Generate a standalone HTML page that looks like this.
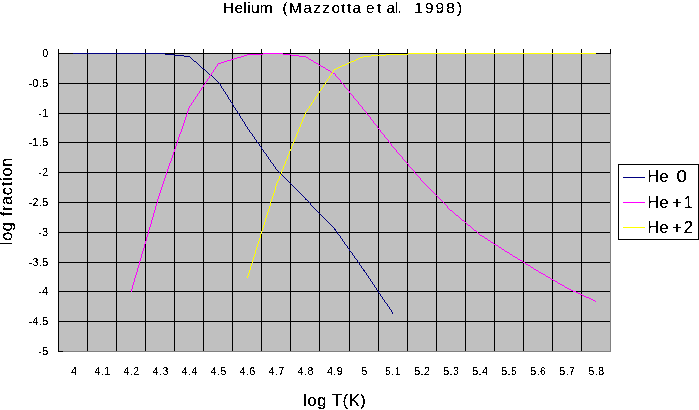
<!DOCTYPE html>
<html><head><meta charset="utf-8"><title>Helium</title>
<style>
html,body{margin:0;padding:0;background:#fff;}
svg{display:block;}
text{font-family:"Liberation Sans",sans-serif;fill:#000;}
.tk{font-size:10.5px;letter-spacing:0.5px;}
.ax{font-size:16.5px;letter-spacing:0.6px;}
.lg{font-size:16.5px;}
.tt{font-size:15.5px;}
</style></head><body>
<svg width="699" height="410" viewBox="0 0 699 410">
<rect x="0" y="0" width="699" height="410" fill="#fff"/>
<rect x="58" y="53" width="552" height="298" fill="#c0c0c0"/>
<g shape-rendering="crispEdges">
<rect x="610" y="53" width="1" height="299" fill="#808080"/>
<rect x="58" y="351" width="553" height="1" fill="#808080"/>
<rect x="58" y="53" width="553" height="1" fill="#000"/>
<rect x="58" y="83" width="552" height="1" fill="#000"/>
<rect x="58" y="113" width="552" height="1" fill="#000"/>
<rect x="58" y="142" width="552" height="1" fill="#000"/>
<rect x="58" y="172" width="552" height="1" fill="#000"/>
<rect x="58" y="202" width="552" height="1" fill="#000"/>
<rect x="58" y="232" width="552" height="1" fill="#000"/>
<rect x="58" y="262" width="552" height="1" fill="#000"/>
<rect x="58" y="291" width="552" height="1" fill="#000"/>
<rect x="58" y="321" width="552" height="1" fill="#000"/>
<rect x="58" y="49" width="1" height="302" fill="#000"/>
<rect x="87" y="49" width="1" height="302" fill="#000"/>
<rect x="116" y="49" width="1" height="302" fill="#000"/>
<rect x="145" y="49" width="1" height="302" fill="#000"/>
<rect x="174" y="49" width="1" height="302" fill="#000"/>
<rect x="203" y="49" width="1" height="302" fill="#000"/>
<rect x="232" y="49" width="1" height="302" fill="#000"/>
<rect x="261" y="49" width="1" height="302" fill="#000"/>
<rect x="290" y="49" width="1" height="302" fill="#000"/>
<rect x="319" y="49" width="1" height="302" fill="#000"/>
<rect x="349" y="49" width="1" height="302" fill="#000"/>
<rect x="378" y="49" width="1" height="302" fill="#000"/>
<rect x="407" y="49" width="1" height="302" fill="#000"/>
<rect x="436" y="49" width="1" height="302" fill="#000"/>
<rect x="465" y="49" width="1" height="302" fill="#000"/>
<rect x="494" y="49" width="1" height="302" fill="#000"/>
<rect x="523" y="49" width="1" height="302" fill="#000"/>
<rect x="552" y="49" width="1" height="302" fill="#000"/>
<rect x="581" y="49" width="1" height="302" fill="#000"/>
<rect x="610" y="49" width="1" height="5" fill="#000"/>
<rect x="58" y="351" width="5" height="1" fill="#000"/>
</g>
<g shape-rendering="crispEdges" stroke="none">
<path fill="#000080" d="M73 53h92v1h-92zM165 54h9v1h-9zM174 55h10v1h-10zM184 56h6v1h-6zM190 57h1v1h-1zM191 58h1v1h-1zM192 59h1v1h-1zM193 60h1v1h-1zM194 61h2v1h-2zM196 62h1v1h-1zM197 63h1v1h-1zM198 64h1v1h-1zM199 65h1v1h-1zM200 66h1v1h-1zM201 67h1v1h-1zM202 68h2v1h-2zM204 69h1v1h-1zM205 70h1v1h-1zM206 71h1v1h-1zM207 72h1v1h-1zM208 73h1v1h-1zM209 74h1v1h-1zM210 75h2v1h-2zM212 76h1v1h-1zM213 77h1v1h-1zM214 78h1v1h-1zM215 79h1v1h-1zM216 80h1v1h-1zM217 81h1v1h-1zM218 82h1v1h-1zM219 83h1v1h-1zM220 84h1v1h-1zM220 85h1v1h-1zM221 86h1v1h-1zM221 87h1v1h-1zM222 88h1v1h-1zM223 89h1v1h-1zM223 90h1v1h-1zM224 91h1v1h-1zM225 92h1v1h-1zM225 93h1v1h-1zM226 94h1v1h-1zM227 95h1v1h-1zM227 96h1v1h-1zM228 97h1v1h-1zM228 98h1v1h-1zM229 99h1v1h-1zM230 100h1v1h-1zM230 101h1v1h-1zM231 102h1v1h-1zM232 103h1v1h-1zM232 104h1v1h-1zM233 105h1v1h-1zM233 106h1v1h-1zM234 107h1v1h-1zM235 108h1v1h-1zM235 109h1v1h-1zM236 110h1v1h-1zM237 111h1v1h-1zM237 112h1v1h-1zM238 113h1v1h-1zM239 114h1v1h-1zM239 115h1v1h-1zM240 116h1v1h-1zM240 117h1v1h-1zM241 118h1v1h-1zM242 119h1v1h-1zM242 120h1v1h-1zM243 121h1v1h-1zM244 122h1v1h-1zM244 123h1v1h-1zM245 124h1v1h-1zM245 125h1v1h-1zM246 126h1v1h-1zM247 127h1v1h-1zM247 128h1v1h-1zM248 129h1v1h-1zM249 130h1v1h-1zM249 131h1v1h-1zM250 132h1v1h-1zM251 133h1v1h-1zM252 134h1v1h-1zM252 135h1v1h-1zM253 136h1v1h-1zM254 137h1v1h-1zM254 138h1v1h-1zM255 139h1v1h-1zM256 140h1v1h-1zM256 141h1v1h-1zM257 142h1v1h-1zM258 143h1v1h-1zM259 144h1v1h-1zM259 145h1v1h-1zM260 146h1v1h-1zM261 147h1v1h-1zM261 148h1v1h-1zM262 149h1v1h-1zM263 150h1v1h-1zM263 151h1v1h-1zM264 152h1v1h-1zM265 153h1v1h-1zM266 154h1v1h-1zM266 155h1v1h-1zM267 156h1v1h-1zM268 157h1v1h-1zM268 158h1v1h-1zM269 159h1v1h-1zM270 160h1v1h-1zM270 161h1v1h-1zM271 162h1v1h-1zM272 163h1v1h-1zM273 164h1v1h-1zM273 165h1v1h-1zM274 166h1v1h-1zM275 167h1v1h-1zM275 168h1v1h-1zM276 169h1v1h-1zM277 170h1v1h-1zM278 171h1v1h-1zM279 172h1v1h-1zM280 173h1v1h-1zM281 174h1v1h-1zM282 175h1v1h-1zM283 176h1v1h-1zM284 177h1v1h-1zM285 178h1v1h-1zM286 179h1v1h-1zM287 180h1v1h-1zM288 181h1v1h-1zM289 182h1v1h-1zM290 183h1v1h-1zM291 184h1v1h-1zM292 185h1v1h-1zM293 186h1v1h-1zM294 187h1v1h-1zM295 188h1v1h-1zM296 189h1v1h-1zM297 190h1v1h-1zM298 191h1v1h-1zM299 192h1v1h-1zM300 193h1v1h-1zM301 194h1v1h-1zM302 195h1v1h-1zM303 196h1v1h-1zM304 197h1v1h-1zM305 198h1v1h-1zM305 199h2v1h-2zM307 200h1v1h-1zM308 201h1v1h-1zM309 202h1v1h-1zM310 203h1v1h-1zM310 204h1v1h-1zM311 205h1v1h-1zM312 206h1v1h-1zM313 207h1v1h-1zM314 208h1v1h-1zM315 209h1v1h-1zM316 210h1v1h-1zM317 211h1v1h-1zM318 212h1v1h-1zM319 213h1v1h-1zM320 214h1v1h-1zM321 215h1v1h-1zM322 216h1v1h-1zM323 217h1v1h-1zM324 218h1v1h-1zM325 219h1v1h-1zM326 220h1v1h-1zM327 221h1v1h-1zM328 222h1v1h-1zM329 223h1v1h-1zM330 224h1v1h-1zM331 225h1v1h-1zM332 226h1v1h-1zM333 227h1v1h-1zM334 228h1v1h-1zM334 229h2v1h-2zM335 230h1v1h-1zM336 231h1v1h-1zM337 232h1v1h-1zM337 233h1v1h-1zM338 234h1v1h-1zM339 235h1v1h-1zM340 236h1v1h-1zM340 237h1v1h-1zM341 238h1v1h-1zM342 239h1v1h-1zM342 240h1v1h-1zM343 241h1v1h-1zM344 242h1v1h-1zM344 243h1v1h-1zM345 244h1v1h-1zM346 245h1v1h-1zM347 246h1v1h-1zM347 247h1v1h-1zM348 248h1v1h-1zM349 249h1v1h-1zM349 250h1v1h-1zM350 251h1v1h-1zM351 252h1v1h-1zM352 253h1v1h-1zM352 254h1v1h-1zM353 255h1v1h-1zM354 256h1v1h-1zM354 257h1v1h-1zM355 258h1v1h-1zM356 259h1v1h-1zM357 260h1v1h-1zM357 261h1v1h-1zM358 262h1v1h-1zM359 263h1v1h-1zM359 264h1v1h-1zM360 265h1v1h-1zM361 266h1v1h-1zM361 267h1v1h-1zM362 268h1v1h-1zM363 269h1v1h-1zM363 270h2v1h-2zM364 271h1v1h-1zM365 272h1v1h-1zM366 273h1v1h-1zM366 274h1v1h-1zM367 275h1v1h-1zM368 276h1v1h-1zM368 277h1v1h-1zM369 278h1v1h-1zM370 279h1v1h-1zM370 280h1v1h-1zM371 281h1v1h-1zM372 282h1v1h-1zM372 283h1v1h-1zM373 284h1v1h-1zM374 285h1v1h-1zM374 286h1v1h-1zM375 287h1v1h-1zM376 288h1v1h-1zM376 289h1v1h-1zM377 290h1v1h-1zM378 291h1v1h-1zM378 292h1v1h-1zM379 293h1v1h-1zM380 294h1v1h-1zM380 295h1v1h-1zM381 296h1v1h-1zM382 297h1v1h-1zM382 298h1v1h-1zM383 299h1v1h-1zM384 300h1v1h-1zM384 301h1v1h-1zM385 302h1v1h-1zM386 303h1v1h-1zM387 304h1v1h-1zM387 305h1v1h-1zM388 306h1v1h-1zM389 307h1v1h-1zM389 308h1v1h-1zM390 309h1v1h-1zM391 310h1v1h-1zM391 311h1v1h-1zM392 312h1v1h-1zM392 313h1v1h-1z"/>
<path fill="#ff00ff" d="M263 53h20v1h-20zM247 54h16v1h-16zM283 54h8v1h-8zM244 55h3v1h-3zM291 55h8v1h-8zM241 56h3v1h-3zM299 56h7v1h-7zM237 57h4v1h-4zM306 57h2v1h-2zM234 58h3v1h-3zM308 58h1v1h-1zM231 59h3v1h-3zM309 59h2v1h-2zM227 60h4v1h-4zM311 60h2v1h-2zM224 61h3v1h-3zM313 61h1v1h-1zM221 62h3v1h-3zM314 62h2v1h-2zM218 63h3v1h-3zM316 63h2v1h-2zM217 64h1v1h-1zM318 64h1v1h-1zM217 65h1v1h-1zM319 65h2v1h-2zM216 66h1v1h-1zM321 66h2v1h-2zM215 67h1v1h-1zM323 67h2v1h-2zM215 68h1v1h-1zM325 68h1v1h-1zM214 69h1v1h-1zM326 69h2v1h-2zM213 70h1v1h-1zM328 70h2v1h-2zM213 71h1v1h-1zM330 71h1v1h-1zM212 72h1v1h-1zM331 72h2v1h-2zM211 73h1v1h-1zM333 73h2v1h-2zM211 74h1v1h-1zM335 74h1v1h-1zM210 75h1v1h-1zM335 75h1v1h-1zM209 76h1v1h-1zM336 76h1v1h-1zM209 77h1v1h-1zM337 77h1v1h-1zM208 78h1v1h-1zM338 78h1v1h-1zM207 79h1v1h-1zM339 79h1v1h-1zM207 80h1v1h-1zM340 80h1v1h-1zM206 81h1v1h-1zM340 81h1v1h-1zM205 82h1v1h-1zM341 82h1v1h-1zM205 83h1v1h-1zM342 83h1v1h-1zM204 84h1v1h-1zM343 84h1v1h-1zM203 85h1v1h-1zM344 85h1v1h-1zM203 86h1v1h-1zM344 86h1v1h-1zM202 87h1v1h-1zM345 87h1v1h-1zM201 88h1v1h-1zM346 88h1v1h-1zM201 89h1v1h-1zM347 89h1v1h-1zM200 90h1v1h-1zM348 90h1v1h-1zM199 91h1v1h-1zM349 91h1v1h-1zM199 92h1v1h-1zM349 92h1v1h-1zM198 93h1v1h-1zM350 93h1v1h-1zM197 94h1v1h-1zM351 94h1v1h-1zM197 95h1v1h-1zM352 95h1v1h-1zM196 96h1v1h-1zM353 96h1v1h-1zM195 97h1v1h-1zM353 97h1v1h-1zM195 98h1v1h-1zM354 98h1v1h-1zM194 99h1v1h-1zM355 99h1v1h-1zM193 100h1v1h-1zM356 100h1v1h-1zM193 101h1v1h-1zM357 101h1v1h-1zM192 102h1v1h-1zM358 102h1v1h-1zM191 103h1v1h-1zM358 103h1v1h-1zM191 104h1v1h-1zM359 104h1v1h-1zM190 105h1v1h-1zM360 105h1v1h-1zM189 106h1v1h-1zM361 106h1v1h-1zM189 107h1v1h-1zM362 107h1v1h-1zM188 108h1v1h-1zM362 108h1v1h-1zM188 109h1v1h-1zM363 109h1v1h-1zM188 110h1v1h-1zM364 110h1v1h-1zM187 111h1v1h-1zM365 111h1v1h-1zM187 112h1v1h-1zM366 112h1v1h-1zM187 113h1v1h-1zM366 113h1v1h-1zM186 114h1v1h-1zM367 114h1v1h-1zM186 115h1v1h-1zM368 115h1v1h-1zM186 116h1v1h-1zM369 116h1v1h-1zM185 117h1v1h-1zM370 117h1v1h-1zM185 118h1v1h-1zM370 118h1v1h-1zM185 119h1v1h-1zM371 119h1v1h-1zM184 120h1v1h-1zM372 120h1v1h-1zM184 121h1v1h-1zM373 121h1v1h-1zM184 122h1v1h-1zM373 122h1v1h-1zM183 123h1v1h-1zM374 123h1v1h-1zM183 124h1v1h-1zM375 124h1v1h-1zM183 125h1v1h-1zM376 125h1v1h-1zM182 126h1v1h-1zM377 126h1v1h-1zM182 127h1v1h-1zM377 127h1v1h-1zM182 128h1v1h-1zM378 128h1v1h-1zM181 129h1v1h-1zM379 129h1v1h-1zM181 130h1v1h-1zM380 130h1v1h-1zM181 131h1v1h-1zM380 131h1v1h-1zM180 132h1v1h-1zM381 132h1v1h-1zM180 133h1v1h-1zM382 133h1v1h-1zM179 134h1v1h-1zM383 134h1v1h-1zM179 135h1v1h-1zM384 135h1v1h-1zM179 136h1v1h-1zM384 136h1v1h-1zM178 137h1v1h-1zM385 137h1v1h-1zM178 138h1v1h-1zM386 138h1v1h-1zM178 139h1v1h-1zM387 139h1v1h-1zM177 140h1v1h-1zM388 140h1v1h-1zM177 141h1v1h-1zM388 141h1v1h-1zM177 142h1v1h-1zM389 142h1v1h-1zM176 143h1v1h-1zM390 143h1v1h-1zM176 144h1v1h-1zM391 144h1v1h-1zM176 145h1v1h-1zM391 145h1v1h-1zM175 146h1v1h-1zM392 146h1v1h-1zM175 147h1v1h-1zM393 147h1v1h-1zM175 148h1v1h-1zM394 148h1v1h-1zM174 149h1v1h-1zM395 149h1v1h-1zM174 150h1v1h-1zM396 150h1v1h-1zM174 151h1v1h-1zM396 151h1v1h-1zM173 152h1v1h-1zM397 152h1v1h-1zM173 153h1v1h-1zM398 153h1v1h-1zM173 154h1v1h-1zM399 154h1v1h-1zM172 155h1v1h-1zM400 155h1v1h-1zM172 156h1v1h-1zM401 156h1v1h-1zM172 157h1v1h-1zM402 157h1v1h-1zM171 158h1v1h-1zM402 158h1v1h-1zM171 159h1v1h-1zM403 159h1v1h-1zM171 160h1v1h-1zM404 160h1v1h-1zM170 161h1v1h-1zM405 161h1v1h-1zM170 162h1v1h-1zM406 162h1v1h-1zM169 163h1v1h-1zM407 163h1v1h-1zM169 164h1v1h-1zM408 164h1v1h-1zM169 165h1v1h-1zM408 165h1v1h-1zM168 166h1v1h-1zM409 166h1v1h-1zM168 167h1v1h-1zM410 167h1v1h-1zM168 168h1v1h-1zM411 168h1v1h-1zM167 169h1v1h-1zM412 169h1v1h-1zM167 170h1v1h-1zM413 170h1v1h-1zM167 171h1v1h-1zM414 171h1v1h-1zM166 172h1v1h-1zM414 172h1v1h-1zM166 173h1v1h-1zM415 173h1v1h-1zM166 174h1v1h-1zM416 174h1v1h-1zM165 175h1v1h-1zM417 175h1v1h-1zM165 176h1v1h-1zM418 176h1v1h-1zM165 177h1v1h-1zM419 177h1v1h-1zM164 178h1v1h-1zM420 178h1v1h-1zM164 179h1v1h-1zM420 179h1v1h-1zM164 180h1v1h-1zM421 180h1v1h-1zM163 181h1v1h-1zM422 181h1v1h-1zM163 182h1v1h-1zM423 182h1v1h-1zM163 183h1v1h-1zM424 183h1v1h-1zM162 184h1v1h-1zM425 184h1v1h-1zM162 185h1v1h-1zM426 185h1v1h-1zM162 186h1v1h-1zM427 186h1v1h-1zM161 187h1v1h-1zM428 187h1v1h-1zM161 188h1v1h-1zM429 188h1v1h-1zM161 189h1v1h-1zM430 189h1v1h-1zM160 190h1v1h-1zM431 190h1v1h-1zM160 191h1v1h-1zM432 191h1v1h-1zM160 192h1v1h-1zM433 192h1v1h-1zM159 193h1v1h-1zM434 193h1v1h-1zM159 194h1v1h-1zM435 194h1v1h-1zM159 195h1v1h-1zM436 195h1v1h-1zM158 196h1v1h-1zM437 196h1v1h-1zM158 197h1v1h-1zM438 197h1v1h-1zM158 198h1v1h-1zM439 198h1v1h-1zM157 199h1v1h-1zM440 199h1v1h-1zM157 200h1v1h-1zM441 200h1v1h-1zM157 201h1v1h-1zM442 201h1v1h-1zM157 202h1v1h-1zM443 202h1v1h-1zM156 203h1v1h-1zM444 203h1v1h-1zM156 204h1v1h-1zM445 204h1v1h-1zM156 205h1v1h-1zM446 205h1v1h-1zM155 206h1v1h-1zM447 206h1v1h-1zM155 207h1v1h-1zM447 207h1v1h-1zM155 208h1v1h-1zM448 208h1v1h-1zM155 209h1v1h-1zM449 209h1v1h-1zM154 210h1v1h-1zM450 210h2v1h-2zM154 211h1v1h-1zM452 211h1v1h-1zM154 212h1v1h-1zM453 212h1v1h-1zM153 213h1v1h-1zM454 213h1v1h-1zM153 214h1v1h-1zM455 214h1v1h-1zM153 215h1v1h-1zM456 215h2v1h-2zM153 216h1v1h-1zM458 216h1v1h-1zM152 217h1v1h-1zM459 217h1v1h-1zM152 218h1v1h-1zM460 218h1v1h-1zM152 219h1v1h-1zM461 219h1v1h-1zM151 220h1v1h-1zM462 220h2v1h-2zM151 221h1v1h-1zM464 221h1v1h-1zM151 222h1v1h-1zM465 222h1v1h-1zM151 223h1v1h-1zM466 223h1v1h-1zM150 224h1v1h-1zM467 224h1v1h-1zM150 225h1v1h-1zM468 225h2v1h-2zM150 226h1v1h-1zM470 226h1v1h-1zM149 227h1v1h-1zM471 227h1v1h-1zM149 228h1v1h-1zM472 228h1v1h-1zM149 229h1v1h-1zM473 229h1v1h-1zM148 230h1v1h-1zM474 230h2v1h-2zM148 231h1v1h-1zM476 231h1v1h-1zM148 232h1v1h-1zM477 232h1v1h-1zM148 233h1v1h-1zM478 233h1v1h-1zM147 234h1v1h-1zM479 234h1v1h-1zM147 235h1v1h-1zM480 235h2v1h-2zM147 236h1v1h-1zM482 236h2v1h-2zM146 237h1v1h-1zM484 237h1v1h-1zM146 238h1v1h-1zM485 238h2v1h-2zM146 239h1v1h-1zM487 239h1v1h-1zM146 240h1v1h-1zM488 240h2v1h-2zM145 241h1v1h-1zM490 241h1v1h-1zM145 242h1v1h-1zM491 242h2v1h-2zM145 243h1v1h-1zM493 243h1v1h-1zM144 244h1v1h-1zM494 244h2v1h-2zM144 245h1v1h-1zM496 245h2v1h-2zM144 246h1v1h-1zM498 246h1v1h-1zM144 247h1v1h-1zM499 247h2v1h-2zM143 248h1v1h-1zM501 248h1v1h-1zM143 249h1v1h-1zM502 249h2v1h-2zM143 250h1v1h-1zM504 250h1v1h-1zM142 251h1v1h-1zM505 251h2v1h-2zM142 252h1v1h-1zM507 252h2v1h-2zM142 253h1v1h-1zM509 253h1v1h-1zM141 254h1v1h-1zM510 254h2v1h-2zM141 255h1v1h-1zM512 255h1v1h-1zM141 256h1v1h-1zM513 256h2v1h-2zM141 257h1v1h-1zM515 257h2v1h-2zM140 258h1v1h-1zM517 258h1v1h-1zM140 259h1v1h-1zM518 259h2v1h-2zM140 260h1v1h-1zM520 260h2v1h-2zM139 261h1v1h-1zM522 261h1v1h-1zM139 262h1v1h-1zM523 262h2v1h-2zM139 263h1v1h-1zM525 263h1v1h-1zM139 264h1v1h-1zM526 264h2v1h-2zM138 265h1v1h-1zM528 265h2v1h-2zM138 266h1v1h-1zM530 266h1v1h-1zM138 267h1v1h-1zM531 267h2v1h-2zM137 268h1v1h-1zM533 268h1v1h-1zM137 269h1v1h-1zM534 269h2v1h-2zM137 270h1v1h-1zM536 270h2v1h-2zM137 271h1v1h-1zM538 271h1v1h-1zM136 272h1v1h-1zM539 272h2v1h-2zM136 273h1v1h-1zM541 273h2v1h-2zM136 274h1v1h-1zM543 274h2v1h-2zM135 275h1v1h-1zM545 275h1v1h-1zM135 276h1v1h-1zM546 276h2v1h-2zM135 277h1v1h-1zM548 277h2v1h-2zM134 278h1v1h-1zM550 278h1v1h-1zM134 279h1v1h-1zM551 279h2v1h-2zM134 280h1v1h-1zM553 280h2v1h-2zM134 281h1v1h-1zM555 281h2v1h-2zM133 282h1v1h-1zM557 282h1v1h-1zM133 283h1v1h-1zM558 283h2v1h-2zM133 284h1v1h-1zM560 284h2v1h-2zM132 285h1v1h-1zM562 285h2v1h-2zM132 286h1v1h-1zM564 286h1v1h-1zM132 287h1v1h-1zM565 287h2v1h-2zM132 288h1v1h-1zM567 288h2v1h-2zM131 289h1v1h-1zM569 289h2v1h-2zM131 290h1v1h-1zM571 290h2v1h-2zM131 291h1v1h-1zM573 291h3v1h-3zM576 292h2v1h-2zM578 293h2v1h-2zM580 294h2v1h-2zM582 295h2v1h-2zM584 296h2v1h-2zM586 297h3v1h-3zM589 298h2v1h-2zM591 299h2v1h-2zM593 300h2v1h-2zM595 301h1v1h-1z"/>
<path fill="#ffff00" d="M408 53h188v1h-188zM386 54h22v1h-22zM371 55h15v1h-15zM363 56h8v1h-8zM360 57h3v1h-3zM358 58h2v1h-2zM356 59h2v1h-2zM354 60h2v1h-2zM351 61h3v1h-3zM349 62h2v1h-2zM347 63h2v1h-2zM345 64h2v1h-2zM342 65h3v1h-3zM340 66h2v1h-2zM338 67h2v1h-2zM336 68h2v1h-2zM334 69h2v1h-2zM333 70h1v1h-1zM333 71h1v1h-1zM332 72h1v1h-1zM331 73h1v1h-1zM331 74h1v1h-1zM330 75h1v1h-1zM329 76h1v1h-1zM329 77h1v1h-1zM328 78h1v1h-1zM327 79h1v1h-1zM327 80h1v1h-1zM326 81h1v1h-1zM325 82h1v1h-1zM325 83h1v1h-1zM324 84h1v1h-1zM323 85h1v1h-1zM323 86h1v1h-1zM322 87h1v1h-1zM321 88h1v1h-1zM321 89h1v1h-1zM320 90h1v1h-1zM319 91h1v1h-1zM319 92h1v1h-1zM318 93h1v1h-1zM317 94h1v1h-1zM317 95h1v1h-1zM316 96h1v1h-1zM315 97h1v1h-1zM315 98h1v1h-1zM314 99h1v1h-1zM313 100h1v1h-1zM313 101h1v1h-1zM312 102h1v1h-1zM311 103h1v1h-1zM311 104h1v1h-1zM310 105h1v1h-1zM309 106h1v1h-1zM309 107h1v1h-1zM308 108h1v1h-1zM307 109h1v1h-1zM307 110h1v1h-1zM306 111h1v1h-1zM305 112h1v1h-1zM305 113h1v1h-1zM304 114h1v1h-1zM304 115h1v1h-1zM304 116h1v1h-1zM303 117h1v1h-1zM303 118h1v1h-1zM302 119h1v1h-1zM302 120h1v1h-1zM302 121h1v1h-1zM301 122h1v1h-1zM301 123h1v1h-1zM300 124h1v1h-1zM300 125h1v1h-1zM300 126h1v1h-1zM299 127h1v1h-1zM299 128h1v1h-1zM298 129h1v1h-1zM298 130h1v1h-1zM298 131h1v1h-1zM297 132h1v1h-1zM297 133h1v1h-1zM296 134h1v1h-1zM296 135h1v1h-1zM296 136h1v1h-1zM295 137h1v1h-1zM295 138h1v1h-1zM294 139h1v1h-1zM294 140h1v1h-1zM294 141h1v1h-1zM293 142h1v1h-1zM293 143h1v1h-1zM292 144h1v1h-1zM292 145h1v1h-1zM291 146h1v1h-1zM291 147h1v1h-1zM291 148h1v1h-1zM290 149h1v1h-1zM290 150h1v1h-1zM289 151h1v1h-1zM289 152h1v1h-1zM289 153h1v1h-1zM288 154h1v1h-1zM288 155h1v1h-1zM287 156h1v1h-1zM287 157h1v1h-1zM287 158h1v1h-1zM286 159h1v1h-1zM286 160h1v1h-1zM285 161h1v1h-1zM285 162h1v1h-1zM285 163h1v1h-1zM284 164h1v1h-1zM284 165h1v1h-1zM283 166h1v1h-1zM283 167h1v1h-1zM283 168h1v1h-1zM282 169h1v1h-1zM282 170h1v1h-1zM281 171h1v1h-1zM281 172h1v1h-1zM281 173h1v1h-1zM280 174h1v1h-1zM280 175h1v1h-1zM279 176h1v1h-1zM279 177h1v1h-1zM279 178h1v1h-1zM278 179h1v1h-1zM278 180h1v1h-1zM277 181h1v1h-1zM277 182h1v1h-1zM276 183h1v1h-1zM276 184h1v1h-1zM276 185h1v1h-1zM275 186h1v1h-1zM275 187h1v1h-1zM275 188h1v1h-1zM275 189h1v1h-1zM274 190h1v1h-1zM274 191h1v1h-1zM274 192h1v1h-1zM273 193h1v1h-1zM273 194h1v1h-1zM273 195h1v1h-1zM272 196h1v1h-1zM272 197h1v1h-1zM272 198h1v1h-1zM271 199h1v1h-1zM271 200h1v1h-1zM271 201h1v1h-1zM270 202h1v1h-1zM270 203h1v1h-1zM270 204h1v1h-1zM270 205h1v1h-1zM269 206h1v1h-1zM269 207h1v1h-1zM269 208h1v1h-1zM268 209h1v1h-1zM268 210h1v1h-1zM268 211h1v1h-1zM267 212h1v1h-1zM267 213h1v1h-1zM267 214h1v1h-1zM266 215h1v1h-1zM266 216h1v1h-1zM266 217h1v1h-1zM265 218h1v1h-1zM265 219h1v1h-1zM265 220h1v1h-1zM265 221h1v1h-1zM264 222h1v1h-1zM264 223h1v1h-1zM264 224h1v1h-1zM263 225h1v1h-1zM263 226h1v1h-1zM263 227h1v1h-1zM262 228h1v1h-1zM262 229h1v1h-1zM262 230h1v1h-1zM261 231h1v1h-1zM261 232h1v1h-1zM261 233h1v1h-1zM260 234h1v1h-1zM260 235h1v1h-1zM260 236h1v1h-1zM260 237h1v1h-1zM259 238h1v1h-1zM259 239h1v1h-1zM259 240h1v1h-1zM258 241h1v1h-1zM258 242h1v1h-1zM258 243h1v1h-1zM257 244h1v1h-1zM257 245h1v1h-1zM257 246h1v1h-1zM256 247h1v1h-1zM256 248h1v1h-1zM256 249h1v1h-1zM255 250h1v1h-1zM255 251h1v1h-1zM255 252h1v1h-1zM255 253h1v1h-1zM254 254h1v1h-1zM254 255h1v1h-1zM254 256h1v1h-1zM253 257h1v1h-1zM253 258h1v1h-1zM253 259h1v1h-1zM252 260h1v1h-1zM252 261h1v1h-1zM252 262h1v1h-1zM251 263h1v1h-1zM251 264h1v1h-1zM251 265h1v1h-1zM250 266h1v1h-1zM250 267h1v1h-1zM250 268h1v1h-1zM250 269h1v1h-1zM249 270h1v1h-1zM249 271h1v1h-1zM249 272h1v1h-1zM248 273h1v1h-1zM248 274h1v1h-1zM248 275h1v1h-1zM247 276h1v1h-1zM247 277h1v1h-1z"/>
</g>
<defs><filter id="th" x="0" y="0" width="699" height="410" filterUnits="userSpaceOnUse" color-interpolation-filters="sRGB"><feComponentTransfer><feFuncA type="discrete" tableValues="0 0 1 1 1"/></feComponentTransfer></filter></defs>
<g filter="url(#th)">
<text class="tk" x="48.5" y="57.3" text-anchor="end">0</text>
<text class="tk" x="48.5" y="87.3" text-anchor="end">-0.5</text>
<text class="tk" x="48.5" y="117.3" text-anchor="end">-1</text>
<text class="tk" x="48.5" y="146.3" text-anchor="end">-1.5</text>
<text class="tk" x="48.5" y="176.3" text-anchor="end">-2</text>
<text class="tk" x="48.5" y="206.3" text-anchor="end">-2.5</text>
<text class="tk" x="48.5" y="236.3" text-anchor="end">-3</text>
<text class="tk" x="48.5" y="266.3" text-anchor="end">-3.5</text>
<text class="tk" x="48.5" y="295.3" text-anchor="end">-4</text>
<text class="tk" x="48.5" y="325.3" text-anchor="end">-4.5</text>
<text class="tk" x="48.5" y="355.3" text-anchor="end">-5</text>
<text class="tk" x="74.1" y="374.8" text-anchor="middle">4</text>
<text class="tk" x="102.6" y="374.8" text-anchor="middle">4.1</text>
<text class="tk" x="131.6" y="374.8" text-anchor="middle">4.2</text>
<text class="tk" x="160.7" y="374.8" text-anchor="middle">4.3</text>
<text class="tk" x="189.7" y="374.8" text-anchor="middle">4.4</text>
<text class="tk" x="218.8" y="374.8" text-anchor="middle">4.5</text>
<text class="tk" x="247.8" y="374.8" text-anchor="middle">4.6</text>
<text class="tk" x="276.9" y="374.8" text-anchor="middle">4.7</text>
<text class="tk" x="305.9" y="374.8" text-anchor="middle">4.8</text>
<text class="tk" x="335.0" y="374.8" text-anchor="middle">4.9</text>
<text class="tk" x="364.7" y="374.8" text-anchor="middle">5</text>
<text class="tk" x="393.1" y="374.8" text-anchor="middle">5.1</text>
<text class="tk" x="422.2" y="374.8" text-anchor="middle">5.2</text>
<text class="tk" x="451.2" y="374.8" text-anchor="middle">5.3</text>
<text class="tk" x="480.3" y="374.8" text-anchor="middle">5.4</text>
<text class="tk" x="509.3" y="374.8" text-anchor="middle">5.5</text>
<text class="tk" x="538.4" y="374.8" text-anchor="middle">5.6</text>
<text class="tk" x="567.4" y="374.8" text-anchor="middle">5.7</text>
<text class="tk" x="596.5" y="374.8" text-anchor="middle">5.8</text>
<text class="tt" x="223.1" y="12.6" textLength="49.6" lengthAdjust="spacing">Helium</text>
<text class="tt" x="282.59999999999997" y="12.6" textLength="78.6" lengthAdjust="spacing">(Mazzotta</text>
<text class="tt" x="365.9" y="12.6" textLength="15.5" lengthAdjust="spacing">et</text>
<text class="tt" x="386.59999999999997" y="12.6" textLength="15.2" lengthAdjust="spacing">al.</text>
<text class="tt" x="414.2" y="12.6" textLength="48.0" lengthAdjust="spacing">1998)</text>
<text class="ax" x="334.8" y="405.8" text-anchor="middle">log T(K)</text>
<text class="ax" transform="translate(12.2,201.3) rotate(-90)" text-anchor="middle">log fraction</text>
</g>
<g shape-rendering="crispEdges"><rect x="618.5" y="164.5" width="80" height="75" fill="#fff" stroke="#000" stroke-width="1"/>
<rect x="623" y="177" width="22" height="1" fill="#000080"/>
<rect x="623" y="202" width="22" height="1" fill="#ff00ff"/>
<rect x="623" y="227" width="22" height="1" fill="#ffff00"/></g>
<g filter="url(#th)">
<text class="lg" x="647.6" y="182.4" textLength="21.2" lengthAdjust="spacing">He</text>
<text class="lg" x="676.4" y="182.4" textLength="10.4" lengthAdjust="spacingAndGlyphs">0</text>
<text class="lg" x="647.6" y="207.5" textLength="21.2" lengthAdjust="spacing">He</text>
<text class="lg" x="672.0" y="207.5" textLength="21.0" lengthAdjust="spacing">+1</text>
<text class="lg" x="647.6" y="232.7" textLength="21.2" lengthAdjust="spacing">He</text>
<text class="lg" x="672.0" y="232.7" textLength="21.0" lengthAdjust="spacing">+2</text>
</g>
</svg>
</body></html>
